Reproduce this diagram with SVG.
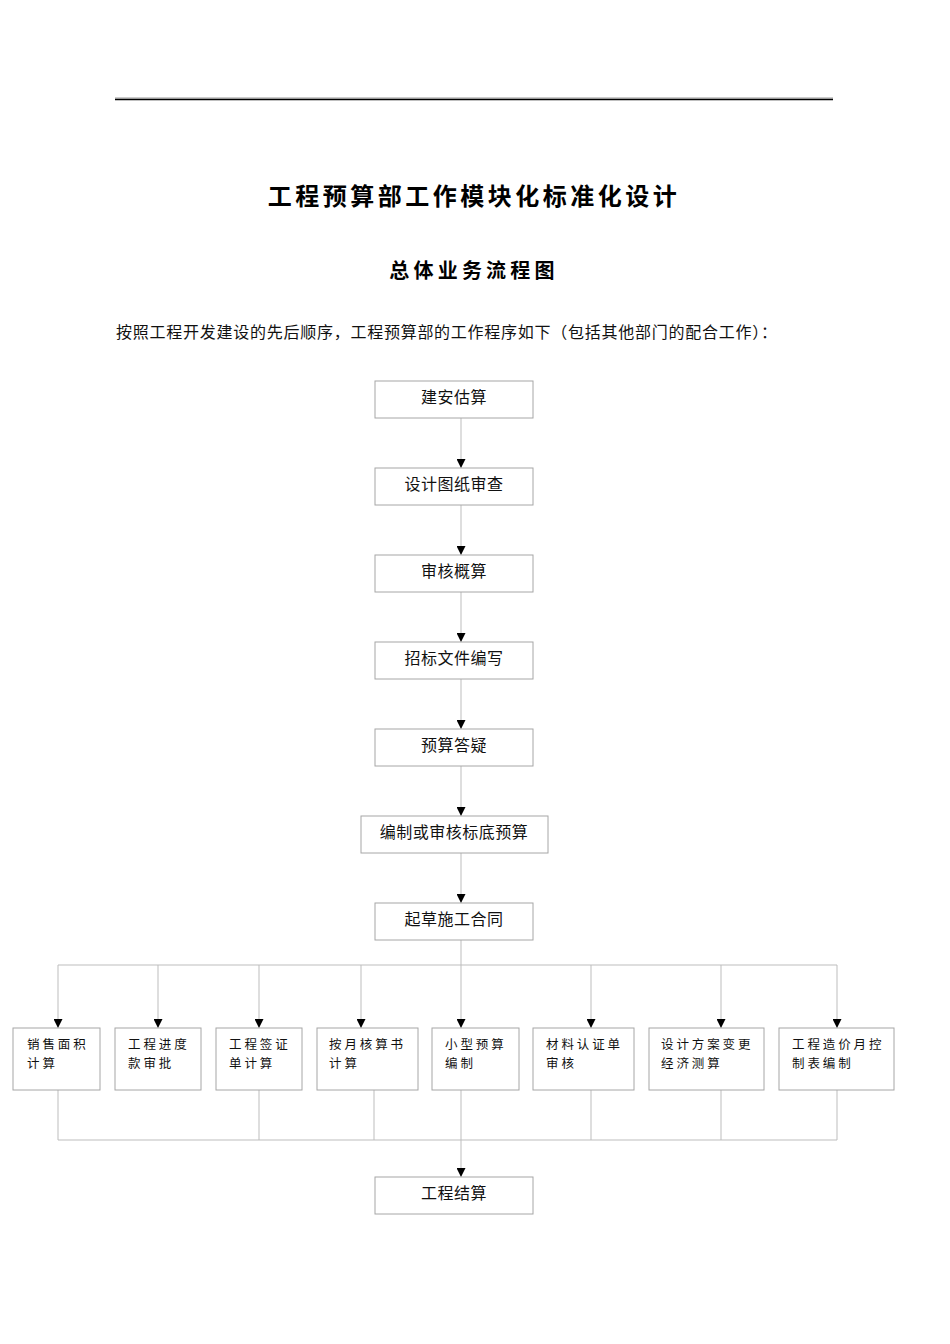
<svg xmlns="http://www.w3.org/2000/svg" width="950" height="1344" viewBox="0 0 950 1344">
<style>
.box{fill:#fff;stroke:#a6a6a6;stroke-width:1}
.ln{fill:none;stroke:#bdbdbd;stroke-width:1}
.t{font-family:"Noto Sans CJK SC","Noto Sans CJK JP",sans-serif;font-size:16px;fill:#111;text-anchor:middle}
.s{font-family:"Noto Sans CJK SC","Noto Sans CJK JP",sans-serif;font-size:12.5px;fill:#111;letter-spacing:2.9px}
.h{font-family:"Noto Sans CJK SC","Noto Sans CJK JP",sans-serif;font-weight:bold;fill:#000;text-anchor:middle}
</style>
<defs>
<marker id="ah" viewBox="0 0 10 10" refX="10" refY="5" markerWidth="9" markerHeight="9" markerUnits="userSpaceOnUse" orient="auto">
<path d="M0,0 L10,5 L0,10 z" fill="#000"/>
</marker>
</defs>
<rect width="950" height="1344" fill="#fff"/>
<g id="header">
<line x1="115" y1="98" x2="833" y2="98" stroke="#999" stroke-width="1"/>
<line x1="115" y1="99.5" x2="833" y2="99.5" stroke="#000" stroke-width="1.6"/>
<text class="h" x="474" y="205" font-size="24" letter-spacing="3.5">工程预算部工作模块化标准化设计</text>
<text class="h" x="474" y="278" font-size="20" letter-spacing="4.2">总体业务流程图</text>
<text x="116" y="338" font-family="'Noto Sans CJK SC','Noto Sans CJK JP',sans-serif" font-size="16" fill="#111" textLength="661" lengthAdjust="spacing">按照工程开发建设的先后顺序，工程预算部的工作程序如下（包括其他部门的配合工作）：</text>
</g>
<g id="connectors">
<line class="ln" x1="461" y1="418" x2="461" y2="468" marker-end="url(#ah)"/>
<line class="ln" x1="461" y1="505" x2="461" y2="555" marker-end="url(#ah)"/>
<line class="ln" x1="461" y1="592" x2="461" y2="642" marker-end="url(#ah)"/>
<line class="ln" x1="461" y1="679" x2="461" y2="729" marker-end="url(#ah)"/>
<line class="ln" x1="461" y1="766" x2="461" y2="816" marker-end="url(#ah)"/>
<line class="ln" x1="461" y1="853" x2="461" y2="903" marker-end="url(#ah)"/>
<line class="ln" x1="461" y1="940" x2="461" y2="965"/>
<line class="ln" x1="58" y1="965" x2="837" y2="965"/>
<line class="ln" x1="58" y1="965" x2="58" y2="1028" marker-end="url(#ah)"/>
<line class="ln" x1="158" y1="965" x2="158" y2="1028" marker-end="url(#ah)"/>
<line class="ln" x1="259" y1="965" x2="259" y2="1028" marker-end="url(#ah)"/>
<line class="ln" x1="361" y1="965" x2="361" y2="1028" marker-end="url(#ah)"/>
<line class="ln" x1="461" y1="965" x2="461" y2="1028" marker-end="url(#ah)"/>
<line class="ln" x1="591" y1="965" x2="591" y2="1028" marker-end="url(#ah)"/>
<line class="ln" x1="721" y1="965" x2="721" y2="1028" marker-end="url(#ah)"/>
<line class="ln" x1="837" y1="965" x2="837" y2="1028" marker-end="url(#ah)"/>
<line class="ln" x1="58" y1="1090" x2="58" y2="1140"/>
<line class="ln" x1="259" y1="1090" x2="259" y2="1140"/>
<line class="ln" x1="374" y1="1090" x2="374" y2="1140"/>
<line class="ln" x1="461" y1="1090" x2="461" y2="1140"/>
<line class="ln" x1="591" y1="1090" x2="591" y2="1140"/>
<line class="ln" x1="721" y1="1090" x2="721" y2="1140"/>
<line class="ln" x1="837" y1="1090" x2="837" y2="1140"/>
<line class="ln" x1="58" y1="1140" x2="837" y2="1140"/>
<line class="ln" x1="461" y1="1140" x2="461" y2="1177" marker-end="url(#ah)"/>
</g>
<g id="n1"><rect class="box" x="375" y="381" width="158" height="37"/><text class="t" x="454" y="403" letter-spacing="0.5">建安估算</text></g>
<g id="n2"><rect class="box" x="375" y="468" width="158" height="37"/><text class="t" x="454" y="490" letter-spacing="0.5">设计图纸审查</text></g>
<g id="n3"><rect class="box" x="375" y="555" width="158" height="37"/><text class="t" x="454" y="577" letter-spacing="0.5">审核概算</text></g>
<g id="n4"><rect class="box" x="375" y="642" width="158" height="37"/><text class="t" x="454" y="664" letter-spacing="0.5">招标文件编写</text></g>
<g id="n5"><rect class="box" x="375" y="729" width="158" height="37"/><text class="t" x="454" y="751" letter-spacing="0.5">预算答疑</text></g>
<g id="n6"><rect class="box" x="361" y="816" width="187" height="37"/><text class="t" x="454" y="838" letter-spacing="0.5">编制或审核标底预算</text></g>
<g id="n7"><rect class="box" x="375" y="903" width="158" height="37"/><text class="t" x="454" y="925" letter-spacing="0.5">起草施工合同</text></g>
<g id="b1"><rect class="box" x="13" y="1028" width="87" height="62"/><text class="s" x="27" y="1049">销售面积</text><text class="s" x="27" y="1067.5">计算</text></g>
<g id="b2"><rect class="box" x="115" y="1028" width="86" height="62"/><text class="s" x="128" y="1049">工程进度</text><text class="s" x="128" y="1067.5">款审批</text></g>
<g id="b3"><rect class="box" x="216" y="1028" width="86" height="62"/><text class="s" x="229" y="1049">工程签证</text><text class="s" x="229" y="1067.5">单计算</text></g>
<g id="b4"><rect class="box" x="317" y="1028" width="101" height="62"/><text class="s" x="329" y="1049">按月核算书</text><text class="s" x="329" y="1067.5">计算</text></g>
<g id="b5"><rect class="box" x="432" y="1028" width="87" height="62"/><text class="s" x="445" y="1049">小型预算</text><text class="s" x="445" y="1067.5">编制</text></g>
<g id="b6"><rect class="box" x="533" y="1028" width="101" height="62"/><text class="s" x="546" y="1049">材料认证单</text><text class="s" x="546" y="1067.5">审核</text></g>
<g id="b7"><rect class="box" x="649" y="1028" width="115" height="62"/><text class="s" x="661" y="1049" letter-spacing="2.6">设计方案变更</text><text class="s" x="661" y="1067.5" letter-spacing="2.6">经济测算</text></g>
<g id="b8"><rect class="box" x="779" y="1028" width="115" height="62"/><text class="s" x="792" y="1049" letter-spacing="1.6">工程造价月控</text><text class="s" x="792" y="1067.5" letter-spacing="1.6">制表编制</text></g>
<g id="n8"><rect class="box" x="375" y="1177" width="158" height="37"/><text class="t" x="454" y="1199" letter-spacing="0.5">工程结算</text></g>
</svg>
